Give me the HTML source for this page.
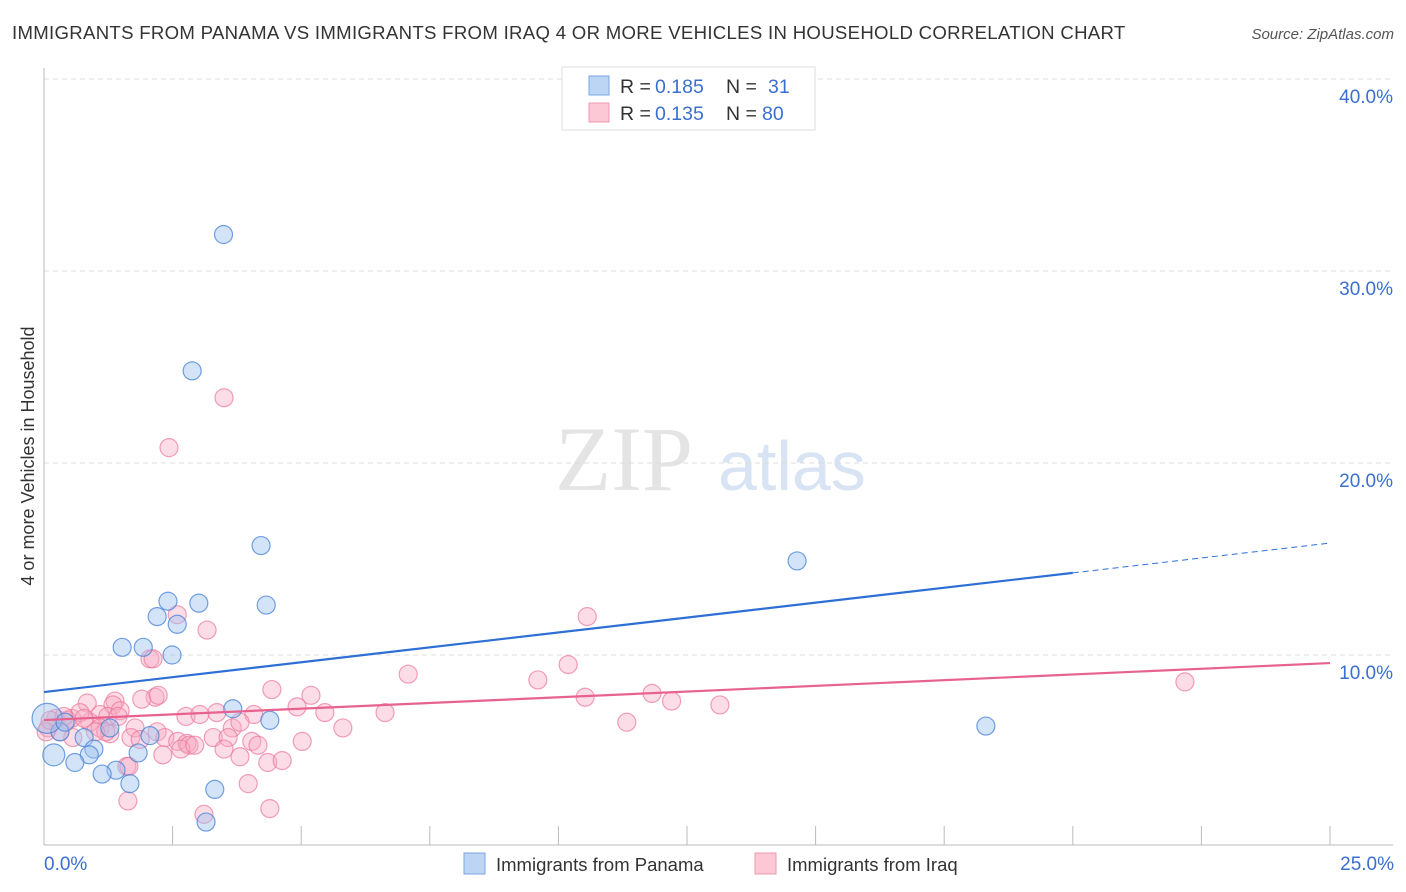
<!DOCTYPE html>
<html><head><meta charset="utf-8"><style>
body{margin:0;background:#fff;font-family:"Liberation Sans",sans-serif}
</style></head><body>
<svg id="chart" width="1406" height="892" xmlns="http://www.w3.org/2000/svg" style="display:block">
<text x="12" y="39" font-size="18.6" letter-spacing="0.3" fill="#333">IMMIGRANTS FROM PANAMA VS IMMIGRANTS FROM IRAQ 4 OR MORE VEHICLES IN HOUSEHOLD CORRELATION CHART</text>
<text x="1394" y="39" font-size="15" fill="#555" text-anchor="end" font-style="italic">Source: ZipAtlas.com</text>
<text x="555" y="490" font-size="92" fill="#e4e4e4" font-family="Liberation Serif">ZIP</text>
<text x="718" y="490" font-size="70" fill="#d8e4f4">atlas</text>
<text transform="translate(34,456) rotate(-90)" font-size="18" fill="#333" text-anchor="middle">4 or more Vehicles in Household</text>
<g id="grid"></g><g id="axes"></g><g id="pts"></g><g id="lines"></g>
<g>
<rect x="562" y="67" width="253" height="63" fill="#fff" stroke="#ddd"/>
<rect x="589" y="76" width="20" height="19" fill="#bcd5f5" stroke="#7aa6e0"/>
<rect x="589" y="103" width="20" height="19" fill="#fcc8d6" stroke="#ee9ab3"/>
<text x="620" y="93" font-size="19.5" fill="#333">R =</text>
<text x="655" y="93" font-size="19.5" fill="#3a6fd0">0.185</text>
<text x="726" y="93" font-size="19.5" fill="#333">N =</text>
<text x="768" y="93" font-size="19.5" fill="#3a6fd0">31</text>
<text x="620" y="120" font-size="19.5" fill="#333">R =</text>
<text x="655" y="120" font-size="19.5" fill="#3a6fd0">0.135</text>
<text x="726" y="120" font-size="19.5" fill="#333">N =</text>
<text x="762" y="120" font-size="19.5" fill="#3a6fd0">80</text>
</g>
<g>
<rect x="464" y="853" width="21" height="21" fill="#bcd5f5" stroke="#7aa6e0"/>
<text x="496" y="871" font-size="18.5" fill="#333">Immigrants from Panama</text>
<rect x="755" y="853" width="21" height="21" fill="#fcc8d6" stroke="#ee9ab3"/>
<text x="787" y="871" font-size="18.5" fill="#333">Immigrants from Iraq</text>
</g>
</svg>
<script>
const yTicks=[10,20,30,40];
const yTickLabels=["10.0%","20.0%","30.0%","40.0%"];
const xTicks=[0,2.5,5,7.5,10,12.5,15,17.5,20,22.5,25];
const panamaX=[3.49,2.88,4.22,14.64,2.41,3.01,4.32,2.2,2.59,1.52,1.93,2.49,3.67,4.39,18.31,1.28,0.31,0.78,2.06,0.97,1.83,0.88,0.19,0.6,1.4,1.13,1.67,3.32,3.15,0.06,0.41];
const panamaY=[31.9,24.8,15.7,14.9,12.8,12.7,12.6,12.0,11.6,10.4,10.4,10.0,7.2,6.6,6.3,6.2,6.0,5.7,5.8,5.1,4.9,4.8,4.8,4.4,4.0,3.8,3.3,3.0,1.3,6.7,6.5];
const panamaR=[9,9,9,9,9,9,9,9,9,9,9,9,9,9,9,9,9,9,9,9,9,9,11,9,9,9,9,9,9,15,9];
const iraqX=[3.5,2.43,10.56,2.59,3.17,2.06,2.12,10.19,7.08,9.6,22.18,4.43,11.82,10.52,5.19,2.16,1.9,12.2,1.38,0.84,4.92,13.14,6.63,5.46,3.36,2.76,3.03,4.08,1.34,1.09,1.24,0.23,0.45,0.54,0.89,0.08,0.31,1.09,1.28,1.77,2.2,3.66,5.81,11.33,2.35,3.29,3.58,4.04,1.69,0.56,2.6,2.78,2.82,5.02,3.5,4.16,2.31,2.66,3.81,4.35,4.63,1.61,1.65,3.97,4.39,3.11,1.63,1.2,0.04,0.7,0.39,1.48,2.93,1.87,1.0,3.81,2.22,0.78,1.44,0.12];
const iraqY=[23.4,20.8,12.0,12.1,11.3,9.8,9.8,9.5,9.0,8.7,8.6,8.2,8.0,7.8,7.9,7.8,7.7,7.6,7.6,7.5,7.3,7.4,7.0,7.0,7.0,6.8,6.9,6.9,7.4,6.9,6.8,6.7,6.6,6.7,6.5,6.2,6.0,6.2,5.9,6.2,6.0,6.2,6.2,6.5,5.7,5.7,5.7,5.5,5.7,5.7,5.5,5.4,5.3,5.5,5.1,5.3,4.8,5.1,4.7,4.4,4.5,4.2,4.2,3.3,2.0,1.7,2.4,6.0,6.0,7.0,6.8,7.1,5.3,5.6,6.0,6.5,7.9,6.7,6.8,6.6];
const panamaTrend=[8.07,15.83], iraqTrend=[6.61,9.58];
const NS="http://www.w3.org/2000/svg";
const X=v=>44+v*51.44, Y=v=>847-v*19.2;
function mk(tag,attrs,parent){const e=document.createElementNS(NS,tag);for(const k in attrs)e.setAttribute(k,attrs[k]);document.getElementById(parent).appendChild(e);return e;}
yTicks.forEach((t,i)=>{
 const l=mk('line',{x1:44,x2:1393,y1:Y(t),y2:Y(t),stroke:'#ddd','stroke-dasharray':'5,4'},'grid');
 
 
 const tx=mk('text',{x:1393,y:Y(t)+24,'font-size':19,fill:'#3a6fd0','text-anchor':'end'},'grid');
 tx.textContent=yTickLabels[i];
 
 
});
const ya=mk('line',{x1:44,x2:44,y1:68,y2:845,stroke:'#bbb'},'axes');


const xa=mk('line',{x1:44,x2:1393,y1:845,y2:845,stroke:'#bbb'},'axes');


xTicks.forEach(t=>{const l=mk('line',{x1:X(t),x2:X(t),y1:826,y2:845,stroke:'#bbb'},'axes');
 
 });
const x0=mk('text',{x:44,y:870,'font-size':19,fill:'#3a6fd0'},'axes');x0.textContent='0.0%';


const x1=mk('text',{x:1394,y:870,'font-size':19,fill:'#3a6fd0','text-anchor':'end'},'axes');x1.textContent='25.0%';


iraqX.forEach((v,i)=>{const c=mk('circle',{cx:X(v),cy:Y(iraqY[i]),r:9,fill:'rgba(248,170,195,0.4)',stroke:'rgba(236,120,155,0.7)','stroke-width':1.2},'pts');
 
 });
panamaX.forEach((v,i)=>{const c=mk('circle',{cx:X(v),cy:Y(panamaY[i]),r:panamaR[i],fill:'rgba(160,195,240,0.45)',stroke:'rgba(70,130,215,0.75)','stroke-width':1.2},'pts');
 
 });
const at=(tr,x)=>tr[0]+(tr[1]-tr[0])*x/25;
const b1=mk('line',{x1:X(0),y1:Y(at(panamaTrend,0)),x2:X(20),y2:Y(at(panamaTrend,20)),stroke:'#2e6fd6','stroke-width':2.2},'lines');


const b2=mk('line',{x1:X(20),y1:Y(at(panamaTrend,20)),x2:X(25),y2:Y(at(panamaTrend,25)),stroke:'#2e6fd6','stroke-width':1,'stroke-dasharray':'6,4'},'lines');


const p1=mk('line',{x1:X(0),y1:Y(at(iraqTrend,0)),x2:X(25),y2:Y(at(iraqTrend,25)),stroke:'#e8628f','stroke-width':2.2},'lines');


</script>
</body></html>
